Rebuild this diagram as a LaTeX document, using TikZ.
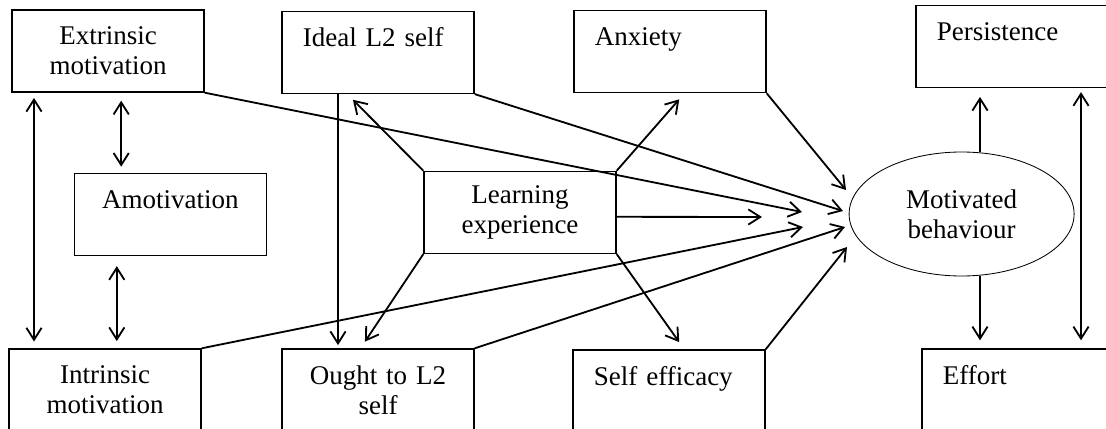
\documentclass[tikz,border=0pt]{standalone}
\usepackage{fontspec}
\setmainfont{Liberation Serif}
\usetikzlibrary{arrows.meta,shapes.geometric}

\begin{document}
\begin{tikzpicture}[
  font=\fontsize{19.2}{21.3}\selectfont,
  box/.style={draw, line width=1pt, text width=3.76cm, inner xsep=0.52cm, inner ysep=0pt, minimum height=2.05cm, align=center},
  lbox/.style={box, align=left},
  link/.style={line width=1.3pt},
  arr/.style={link, -{Straight Barb[length=3mm,width=3.8mm]}},
  dbl/.style={link, {Straight Barb[length=3mm,width=3.8mm]}-{Straight Barb[length=3mm,width=3.8mm]}}
]
\useasboundingbox (0,0) rectangle (27.65,10.7);

\node[box] (ext) at (2.7,9.425) {Extrinsic\\motivation};
\node[lbox] (ideal) at (9.45,9.39) {Ideal L2 self\\\mbox{}};
\node[lbox] (anx) at (16.75,9.41) {Anxiety\\\mbox{}};
\node[lbox] (pers) at (25.3,9.54) {Persistence\\\mbox{}};
\node[box] (amot) at (4.26,5.34) {Amotivation\\\mbox{}};
\node[box] (learn) at (13.0,5.39) {Learning\\experience};
\node[box] (intr) at (2.625,0.95) {Intrinsic\\motivation};
\node[box] (ought) at (9.45,0.95) {Ought to L2\\self};
\node[lbox] (selfeff) at (16.725,0.925) {Self efficacy\\\mbox{}};
\node[lbox] (effort) at (25.45,0.95) {Effort\\\mbox{}};

\node[draw, ellipse, line width=0.6pt, minimum width=5.625cm, minimum height=3.1cm, inner sep=0pt, align=center] (mb) at (24.04,5.35) {Motivated\\behaviour};

\coordinate (inE) at (20.05,5.4);
\coordinate (inI) at (21.075,5.425);
\coordinate (inA) at (21.15,5.95);
\coordinate (inL) at (19.05,5.275);
\coordinate (inM) at (20.075,5.025);
\coordinate (inO) at (21.125,5.025);
\coordinate (inS) at (21.175,4.525);

\draw[dbl, shorten <=0.13cm, shorten >=0.17cm] ([xshift=-1.85cm]ext.south) -- ([xshift=-1.85cm]ext.south |- intr.north);
\draw[dbl, shorten <=0.2cm, shorten >=0.15cm] ([xshift=0.33cm]ext.south) -- ([xshift=0.33cm]ext.south |- amot.north);
\draw[dbl, shorten <=0.25cm, shorten >=0.18cm] ([xshift=-1.34cm]amot.south) -- ([xshift=-1.34cm]amot.south |- intr.north);
\draw[arr, shorten >=0.08cm] ([xshift=-1cm]ideal.south) -- ([xshift=-1cm]ideal.south |- ought.north);

\draw[arr, shorten >=0.2cm] (learn.north west) -- ([xshift=1.65cm]ideal.south west);
\draw[arr, shorten >=0.2cm] (learn.south west) -- ([xshift=1.98cm]ought.north west);
\draw[arr, shorten >=0.2cm] (learn.north east) -- ([xshift=2.78cm]anx.south west);
\draw[arr, shorten >=0.22cm] (learn.south east) -- ([xshift=2.8cm]selfeff.north west);
\draw[arr] ([yshift=-0.11cm]learn.east) -- (inL);

\draw[arr] (ext.south east) -- (inE);
\draw[arr] (ideal.south east) -- (inI);
\draw[arr] (anx.south east) -- (inA);
\draw[arr] (intr.north east) -- (inM);
\draw[arr] (ought.north east) -- (inO);
\draw[arr] (selfeff.north east) -- (inS);

\draw[arr, shorten >=0.22cm] ([xshift=0.46cm]mb.north) -- ([xshift=0.46cm]mb.north |- pers.south);
\draw[arr, shorten >=0.2cm] ([xshift=0.46cm]mb.south) -- ([xshift=0.46cm]mb.south |- effort.north);
\draw[dbl, shorten <=0.1cm, shorten >=0.2cm] ([xshift=1.725cm]pers.south) -- ([xshift=1.725cm]pers.south |- effort.north);

\end{tikzpicture}
\end{document}
